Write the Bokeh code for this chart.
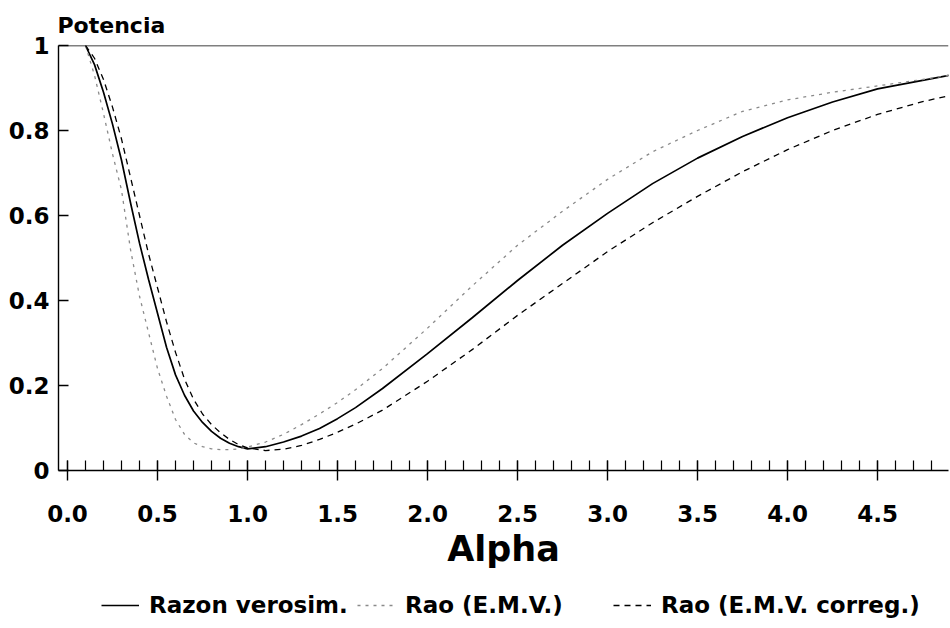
from bokeh.plotting import figure
from bokeh.layouts import column
from bokeh.models import (FixedTicker, PrintfTickFormatter, Span, Legend,
                          LegendItem, Range1d, Title)
from bokeh.embed import file_html
from bokeh.resources import INLINE

# ---------------- data ----------------
alpha = [0.1, 0.15, 0.2, 0.25, 0.3, 0.35, 0.4, 0.45, 0.5, 0.55, 0.6, 0.65,
         0.7, 0.75, 0.8, 0.85, 0.9, 0.95, 1.0, 1.1, 1.2, 1.3, 1.4, 1.5,
         1.6, 1.75, 2.0, 2.25, 2.5, 2.75, 3.0, 3.25, 3.5, 3.75, 4.0, 4.25,
         4.5, 4.75, 4.9]

razon_verosim = [1.0, 0.955, 0.89, 0.815, 0.73, 0.63, 0.535, 0.45, 0.37, 0.29,
                 0.225, 0.177, 0.14, 0.113, 0.092, 0.076, 0.064, 0.056, 0.051,
                 0.056, 0.067, 0.081, 0.099, 0.122, 0.148, 0.193, 0.275,
                 0.36, 0.447, 0.53, 0.605, 0.675, 0.735, 0.786, 0.83, 0.867,
                 0.898, 0.918, 0.93]

rao_emv = [1.0, 0.93, 0.84, 0.745, 0.66, 0.52, 0.41, 0.325, 0.24, 0.175,
           0.12, 0.085, 0.065, 0.056, 0.051, 0.049, 0.049, 0.051, 0.055,
           0.067, 0.085, 0.108, 0.133, 0.16, 0.19, 0.24, 0.335, 0.435, 0.53,
           0.61, 0.685, 0.75, 0.8, 0.845, 0.872, 0.89, 0.905, 0.92, 0.93]

rao_emv_correg = [1.0, 0.97, 0.92, 0.855, 0.78, 0.69, 0.6, 0.51, 0.43, 0.35,
                  0.278, 0.215, 0.168, 0.133, 0.108, 0.089, 0.073, 0.061, 0.053,
                  0.047, 0.05, 0.059, 0.073, 0.09, 0.109, 0.142, 0.21, 0.285,
                  0.365, 0.44, 0.515, 0.583, 0.645, 0.703, 0.755, 0.8, 0.838,
                  0.868, 0.882]

x_major_ticks = [0.0, 0.5, 1.0, 1.5, 2.0, 2.5, 3.0, 3.5, 4.0, 4.5]
x_minor_ticks = [round(0.1 * i, 1) for i in range(0, 49)]
y_ticks = [0, 0.2, 0.4, 0.6, 0.8, 1]
y_tick_labels = {0: "0", 0.2: "0.2", 0.4: "0.4", 0.6: "0.6", 0.8: "0.8", 1: "1"}

legend_labels = ["Razon verosim.", "Rao (E.M.V.)", "Rao (E.M.V. correg.)"]
y_title = "Potencia"
x_title = "Alpha"

FONT = "DejaVu Sans"
SERIES = [razon_verosim, rao_emv, rao_emv_correg]
STYLES = [dict(line_color="black", line_width=1.7),
          dict(line_color="#8a8a8a", line_width=1.3, line_dash="3 5"),
          dict(line_color="black", line_width=1.3, line_dash="6 5")]

p = figure(width=950, height=582, output_backend="svg", toolbar_location=None,
           x_range=Range1d(-0.05, 4.894), y_range=Range1d(0, 1),
           min_border_left=58, min_border_right=2, min_border_top=45,
           min_border_bottom=112, title=None)
p.outline_line_color = None
p.xgrid.visible = False
p.ygrid.visible = False
p.background_fill_color = "white"
p.border_fill_color = "white"

for series, st in zip(SERIES, STYLES):
    p.line(alpha, series, **st)

# top line at 1
p.add_layout(Span(location=1, dimension="width", line_color="black",
                  line_width=1.3))

# title "Potencia" (y axis name) at the top left
p.add_layout(Title(text=y_title, align="left", text_font=FONT,
                   text_font_style="bold", text_font_size="22px",
                   text_color="black", standoff=15, offset=-1), "above")

# x axis
xa = p.xaxis[0]
xa.ticker = FixedTicker(ticks=x_major_ticks, minor_ticks=x_minor_ticks)
xa.formatter = PrintfTickFormatter(format="%.1f")
xa.major_tick_in = 10
xa.major_tick_out = 10
xa.minor_tick_in = 10
xa.minor_tick_out = 0
xa.axis_line_width = 1.4
xa.major_tick_line_width = 1.4
xa.minor_tick_line_width = 1.2
xa.major_label_text_font = FONT
xa.major_label_text_font_style = "bold"
xa.major_label_text_font_size = "23px"
xa.major_label_text_color = "black"
xa.major_label_standoff = 24
xa.axis_label = x_title
xa.axis_label_text_font = FONT
xa.axis_label_text_font_style = "bold"
xa.axis_label_text_font_size = "35px"
xa.axis_label_text_color = "black"
xa.axis_label_standoff = 4

# y axis
ya = p.yaxis[0]
ya.ticker = FixedTicker(ticks=y_ticks, minor_ticks=[])
ya.major_label_overrides = y_tick_labels
ya.major_tick_in = 10
ya.major_tick_out = 0
ya.axis_line_width = 1.4
ya.major_tick_line_width = 1.4
ya.major_label_text_font = FONT
ya.major_label_text_font_style = "bold"
ya.major_label_text_font_size = "23px"
ya.major_label_text_color = "black"
ya.major_label_standoff = 9

# legend strip below the chart: same series and styles, drawn off-range so
# that only the legend samples show
q = figure(width=950, height=46, output_backend="svg", toolbar_location=None,
           x_range=Range1d(10, 11), y_range=Range1d(10, 11),
           min_border=0, title=None)
q.axis.visible = False
q.grid.visible = False
q.outline_line_color = None
q.background_fill_color = "white"
q.border_fill_color = "white"
legend_renderers = [q.line(alpha, series, **st)
                    for series, st in zip(SERIES, STYLES)]
items = [LegendItem(label=lab, renderers=[r])
         for lab, r in zip(legend_labels, legend_renderers)]
lg = Legend(items=items, location=(43, 10), orientation="horizontal",
            glyph_width=38, glyph_height=20, label_standoff=10,
            label_width=205, spacing=3,
            padding=0, margin=0, border_line_color=None,
            background_fill_alpha=0,
            label_text_font=FONT, label_text_font_style="bold",
            label_text_font_size="23px", label_text_color="black")
q.add_layout(lg)

open("out.html", "w").write(file_html(column(p, q, spacing=0), INLINE))
